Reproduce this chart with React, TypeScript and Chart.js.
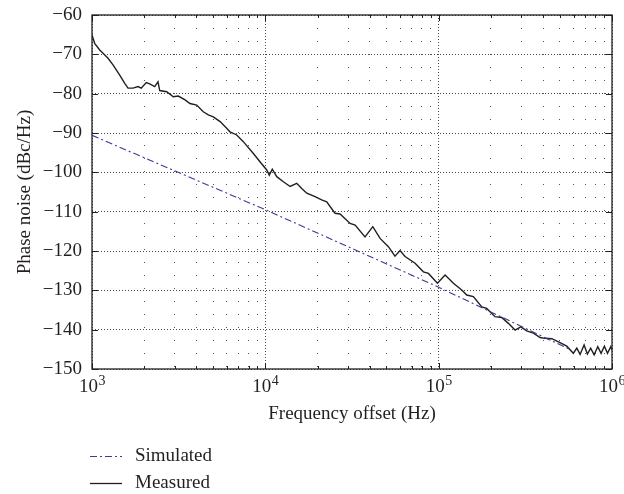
import React, { useEffect, useRef } from 'react';
import { Chart, registerables } from 'chart.js';

Chart.register(...registerables);

// ---------- data ----------
const measuredFreq = [
  1000, 1036, 1108, 1158, 1237, 1322, 1445, 1545, 1614, 1725, 1842, 1924, 2056, 2153, 2300, 2403, 2459,
  2698, 2944, 3148, 3443, 3673, 4018, 4385, 4688, 5012, 5483, 5984, 6252, 6839, 7464, 8531, 9311,
  10186, 10544, 10965, 11641, 12706, 13900, 15171, 16218, 17338, 19364, 21135, 22594, 25235, 26977,
  30832, 32961, 37584, 41687, 45920, 51286, 55976, 59841, 63973, 73114, 81658, 87297, 98401,
  108893, 121619, 135831, 145211, 158489, 177419, 189234, 211349, 231206, 252348, 276058, 297852,
  322107, 352371, 384592, 411150, 449780, 501187, 548277, 598412, 626614, 654636, 690240, 721107,
  753356, 788860, 827942, 864968, 903649, 941889, 984011, 1000000,
];
const measuredDb = [
  -65.1, -67.2, -68.9, -69.7, -71.0, -72.7, -75.3, -77.4, -78.6, -78.6, -78.2, -78.6, -77.2, -77.5, -78.2, -77.0, -79.2,
  -79.5, -80.8, -80.6, -81.6, -82.5, -82.9, -84.6, -85.4, -85.9, -87.1, -88.8, -89.7, -90.5, -92.2, -95.2, -97.3,
  -99.4, -100.7, -99.2, -101.1, -102.4, -103.6, -102.8, -104.1, -105.3, -106.2, -107.0, -107.5, -110.4, -110.6,
  -113.0, -113.4, -116.4, -113.8, -116.8, -118.9, -121.3, -119.9, -121.4, -123.1, -125.3, -125.7, -128.2,
  -126.1, -128.2, -129.9, -131.2, -131.6, -134.2, -134.6, -136.7, -136.9, -138.4, -140.1, -139.3,
  -140.3, -140.9, -142.0, -142.2, -142.3, -143.3, -144.2, -146.0, -144.7, -146.3, -143.9, -146.2,
  -144.7, -146.4, -144.3, -146.0, -144.2, -146.0, -144.3, -145.2,
];
const simulatedFreq = [1000, 10000, 100000, 570000];
const simulatedDb = [-90.6, -109.5, -129.2, -145.0];

const seriesNames = ['Simulated', 'Measured'];
const xDecades = [1e3, 1e4, 1e5, 1e6];
const xLabelBase = '10';
const xLabelExponents = ['3', '4', '5', '6'];
const yTicks = [-60, -70, -80, -90, -100, -110, -120, -130, -140, -150];
const xTitle = 'Frequency offset (Hz)';
const yTitle = 'Phase noise (dBc/Hz)';

// ---------- style ----------
const INK = '#231f20';
const SIM_COLOR = '#3d3a94';
const FONT = "'Liberation Serif', 'Times New Roman', serif";
const FONT_SIZE = 19;
const SUP_SIZE = 14;
const SIM_DASH = [7, 3, 2, 3];

const xTickValues: number[] = [];
for (let d = 0; d < xDecades.length; d++) {
  if (d === xDecades.length - 1) {
    xTickValues.push(xDecades[d]);
  } else {
    for (let k = 1; k <= 9; k++) xTickValues.push(xDecades[d] * k);
  }
}
const isDecade = (v: number) => xDecades.some((d) => Math.abs(d - v) < 1e-6 * d);

const framePlugin = {
  id: 'frameAndLegend',
  afterDatasetsDraw(chart: any) {
    const { ctx, chartArea: a, scales } = chart;
    ctx.save();
    ctx.strokeStyle = INK;
    ctx.lineWidth = 1;
    ctx.beginPath();
    for (const v of xTickValues) {
      const px = Math.round(scales.x.getPixelForValue(v)) + 0.5;
      const len = isDecade(v) ? 6 : 3;
      ctx.moveTo(px, a.bottom);
      ctx.lineTo(px, a.bottom - len);
      ctx.moveTo(px, a.top);
      ctx.lineTo(px, a.top + len);
    }
    for (const v of yTicks) {
      const py = Math.round(scales.y.getPixelForValue(v)) + 0.5;
      ctx.moveTo(a.left, py);
      ctx.lineTo(a.left + 6, py);
      ctx.moveTo(a.right, py);
      ctx.lineTo(a.right - 6, py);
    }
    ctx.stroke();
    ctx.lineWidth = 1.3;
    ctx.strokeRect(a.left, a.top, a.right - a.left, a.bottom - a.top);
    ctx.restore();
  },
  afterDraw(chart: any) {
    const { ctx, chartArea: a, scales } = chart;
    ctx.save();
    // x tick labels as 10^n with a raised exponent
    ctx.fillStyle = INK;
    ctx.textBaseline = 'alphabetic';
    ctx.textAlign = 'left';
    xDecades.forEach((d, i) => {
      const px = scales.x.getPixelForValue(d);
      ctx.font = `${FONT_SIZE}px ${FONT}`;
      const w1 = ctx.measureText(xLabelBase).width;
      ctx.font = `${SUP_SIZE}px ${FONT}`;
      const w2 = ctx.measureText(xLabelExponents[i]).width;
      const x0 = px - (w1 + w2) / 2;
      const base = a.bottom + 23;
      ctx.font = `${FONT_SIZE}px ${FONT}`;
      ctx.fillText(xLabelBase, x0, base);
      ctx.font = `${SUP_SIZE}px ${FONT}`;
      ctx.fillText(xLabelExponents[i], x0 + w1 + 0.5, base - 7);
    });

    // legend
    const items = [
      { name: seriesNames[0], color: SIM_COLOR, dash: SIM_DASH, width: 1.1, y: 456 },
      { name: seriesNames[1], color: INK, dash: [], width: 1.3, y: 483 },
    ];
    ctx.font = `${FONT_SIZE}px ${FONT}`;
    ctx.textBaseline = 'middle';
    ctx.textAlign = 'left';
    for (const it of items) {
      ctx.beginPath();
      ctx.setLineDash(it.dash);
      ctx.strokeStyle = it.color;
      ctx.lineWidth = it.width;
      ctx.moveTo(90, it.y + 0.5);
      ctx.lineTo(122, it.y + 0.5);
      ctx.stroke();
      ctx.setLineDash([]);
      ctx.fillStyle = INK;
      ctx.fillText(it.name, 135, it.y);
    }
    ctx.restore();
  },
};

export default function App() {
  const canvasRef = useRef<HTMLCanvasElement | null>(null);

  useEffect(() => {
    const canvas = canvasRef.current;
    if (!canvas) return;
    const chart = new Chart(canvas, {
      type: 'line',
      data: {
        datasets: [
          {
            label: seriesNames[0],
            data: simulatedFreq.map((f, i) => ({ x: f, y: simulatedDb[i] })),
            borderColor: SIM_COLOR,
            borderWidth: 1.1,
            borderDash: SIM_DASH,
            pointRadius: 0,
            fill: false,
            tension: 0,
          },
          {
            label: seriesNames[1],
            data: measuredFreq.map((f, i) => ({ x: f, y: measuredDb[i] })),
            borderColor: INK,
            borderWidth: 1.4,
            pointRadius: 0,
            fill: false,
            tension: 0,
          },
        ],
      },
      options: {
        responsive: false,
        animation: false,
        events: [],
        layout: { padding: { left: 0, top: 15, right: 12, bottom: 65 } },
        plugins: { legend: { display: false }, tooltip: { enabled: false } },
        scales: {
          x: {
            type: 'logarithmic',
            position: 'bottom',
            min: 1000,
            max: 1000000,
            afterBuildTicks: (scale: any) => {
              scale.ticks = xTickValues.map((v) => ({ value: v }));
            },
            afterFit: (scale: any) => {
              scale.height = 60;
              scale.paddingLeft = 0;
              scale.paddingRight = 0;
            },
            ticks: {
              autoSkip: false,
              maxRotation: 0,
              minRotation: 0,
              padding: 6,
              color: INK,
              font: { family: FONT, size: FONT_SIZE },
              callback: () => '',
            },
            grid: {
              drawTicks: false,
              lineWidth: 1,
              color: (c: any) => (c.tick && isDecade(c.tick.value) ? '#4a4a4a' : '#555555'),
            },
            border: {
              display: false,
              dash: (c: any) => (c.tick && isDecade(c.tick.value) ? [1, 2] : [1, 12]),
            },
            title: {
              display: true,
              text: xTitle,
              color: INK,
              font: { family: FONT, size: FONT_SIZE },
              padding: { top: 0, bottom: 4 },
            },
          },
          y: {
            type: 'linear',
            position: 'left',
            min: -150,
            max: -60,
            afterBuildTicks: (scale: any) => {
              scale.ticks = yTicks.map((v) => ({ value: v }));
            },
            afterFit: (scale: any) => {
              scale.width = 92;
              scale.paddingTop = 0;
              scale.paddingBottom = 0;
            },
            ticks: {
              padding: 10,
              color: INK,
              font: { family: FONT, size: FONT_SIZE },
              callback: (value: any) => String(value).replace('-', '\u2212'),
            },
            grid: {
              drawTicks: false,
              lineWidth: 1,
              color: '#4a4a4a',
            },
            border: {
              display: false,
              dash: [1, 2],
            },
            title: {
              display: true,
              text: yTitle,
              color: INK,
              font: { family: FONT, size: FONT_SIZE },
              padding: { top: 14, bottom: 0 },
            },
          },
        },
      },
      plugins: [framePlugin],
    } as any);
    return () => chart.destroy();
  }, []);

  return (
    <div style={{ position: 'fixed', left: 0, top: 0, width: 624, height: 494, background: '#ffffff' }}>
      <canvas ref={canvasRef} width={624} height={494} style={{ display: 'block' }} />
    </div>
  );
}
